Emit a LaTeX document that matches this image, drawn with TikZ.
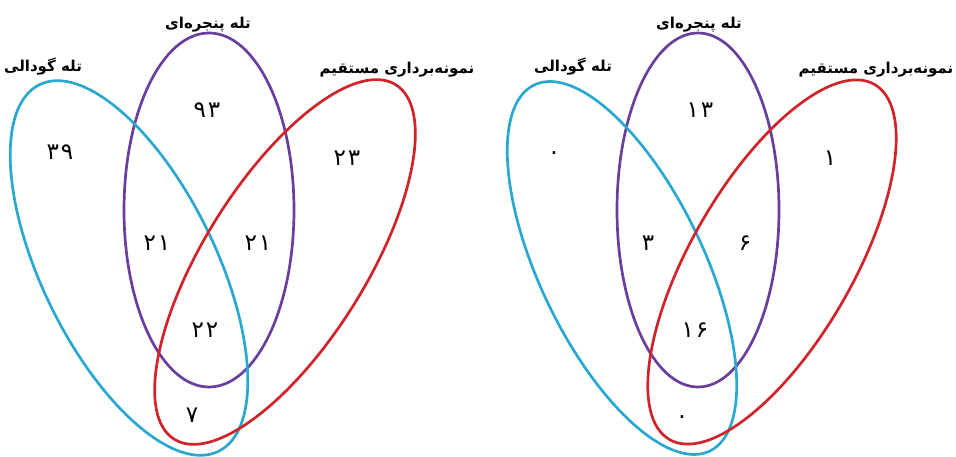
\documentclass[tikz,border=0pt]{standalone}
\usepackage{fontspec}
\TeXXeTstate=1
\newfontfamily\arabicfont[Script=Arabic]{DejaVu Sans}
\newfontfamily\digitfont[LetterSpace=8]{DejaVu Sans}
\definecolor{vblue}{HTML}{2BA8D0}
\definecolor{vpurple}{HTML}{6A3E9B}
\definecolor{vred}{HTML}{D1232A}
\tikzset{
  setline/.style={line width=2.7pt},
  setlabel/.style={font=\arabicfont\bfseries\fontsize{15}{17}\selectfont, inner sep=0pt},
  count/.style={font=\digitfont\fontsize{23}{25}\selectfont, inner sep=0pt}
}
\begin{document}
\begin{tikzpicture}[x=1pt,y=1pt]
\useasboundingbox (0,0) rectangle (956,457);
% ---------- left diagram ----------
\draw[setline, vpurple] (209,247) ellipse [x radius=85, y radius=177];
\draw[setline, vblue, rotate around={26:(129,189)}] (129,189) ellipse [x radius=87, y radius=204];
\draw[setline, vred, rotate around={-32:(285,195)}] (285,195) ellipse [x radius=81, y radius=209];
\node[setlabel] (lA) at (43,390) {\beginR تله گودالی\endR};
\node[setlabel] (lB) at (208,432) {\beginR تله پنجره‌ای\endR};
\node[setlabel] (lC) at (397,387) {\beginR نمونه‌برداری مستقیم\endR};
\node[count] (l1) at (207,347) {۹۳};
\node[count] (l2) at (60,305) {۳۹};
\node[count] (l3) at (347,299) {۲۳};
\node[count] (l4) at (157,214) {۲۱};
\node[count] (l5) at (258,214) {۲۱};
\node[count] (l6) at (205,127) {۲۲};
\node[count] (l7) at (192,42) {۷};
% ---------- right diagram ----------
\draw[setline, vpurple] (698,247) ellipse [x radius=81, y radius=177];
\draw[setline, vblue, rotate around={25.6:(622,189)}] (622,189) ellipse [x radius=82, y radius=203];
\draw[setline, vred, rotate around={-30:(772,195)}] (772,195) ellipse [x radius=81, y radius=205];
\node[setlabel] (rA) at (573,390) {\beginR تله گودالی\endR};
\node[setlabel] (rB) at (699,432) {\beginR تله پنجره‌ای\endR};
\node[setlabel] (rC) at (876,387) {\beginR نمونه‌برداری مستقیم\endR};
\node[count] (r1) at (700,347) {۱۳};
\node[count] (r2) at (554,301) {۰};
\node[count] (r3) at (830,299) {۱};
\node[count] (r4) at (648,214) {۳};
\node[count] (r5) at (745,214) {۶};
\node[count] (r6) at (695,127) {۱۶};
\node[count] (r7) at (682,37) {۰};
\end{tikzpicture}
\end{document}
